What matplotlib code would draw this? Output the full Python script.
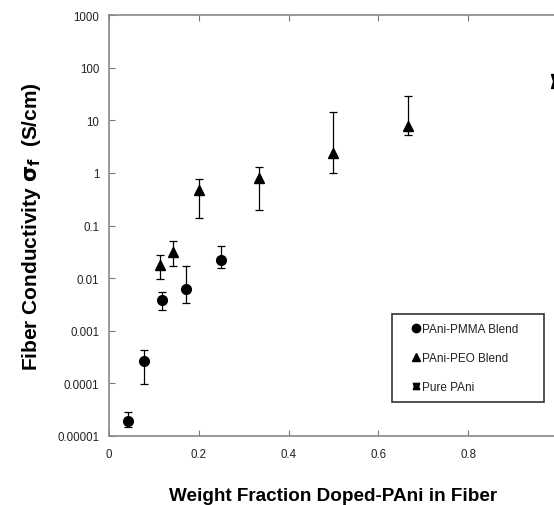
import matplotlib
matplotlib.use("Agg")
import matplotlib.pyplot as plt
from matplotlib.path import Path
import numpy as np

plt.rcParams['font.family'] = ['Liberation Sans', 'DejaVu Sans']

# PAni-PMMA blend (circles)
pmma_x = [0.042, 0.079, 0.118, 0.171, 0.25]
pmma_y = [1.95e-5, 2.7e-4, 3.9e-3, 6.3e-3, 0.0225]
pmma_lo = [1.5e-5, 9.7e-5, 2.5e-3, 3.4e-3, 0.0155]
pmma_hi = [2.9e-5, 4.3e-4, 5.4e-3, 0.0168, 0.040]

# PAni-PEO blend (triangles)
peo_x = [0.114, 0.142, 0.2, 0.333, 0.5, 0.667]
peo_y = [0.0175, 0.031, 0.47, 0.785, 2.35, 7.8]
peo_lo = [0.0098, 0.0168, 0.136, 0.195, 0.98, 5.2]
peo_hi = [0.027, 0.051, 0.76, 1.31, 14.6, 29.5]

# Pure PAni
pure_x = [1.0]
pure_y = [55.0]

xticks = [0, 0.2, 0.4, 0.6, 0.8]
xticklabels = ['0', '0.2', '0.4', '0.6', '0.8']
yticks = [1e-5, 1e-4, 1e-3, 1e-2, 1e-1, 1, 10, 100, 1000]
yticklabels = ['0.00001', '0.0001', '0.001', '0.01', '0.1', '1', '10', '100', '1000']
legend_labels = ['PAni-PMMA Blend', 'PAni-PEO Blend', 'Pure PAni']

W, H = 554, 506
fig = plt.figure(figsize=(W/100, H/100), dpi=100)
ax = fig.add_axes([109/W, (H-437)/H, 449/W, 421/H])

bowtie = Path([(-1, -1), (1, -1), (0.7, 0), (1, 1), (-1, 1), (-0.7, 0), (-1, -1)],
              [Path.MOVETO] + [Path.LINETO]*5 + [Path.CLOSEPOLY])

def err(y, lo, hi):
    y = np.array(y); return [y - np.array(lo), np.array(hi) - y]

ax.errorbar(pmma_x, pmma_y, yerr=err(pmma_y, pmma_lo, pmma_hi), fmt='o', color='black',
            ms=7, capsize=2.6, elinewidth=0.9, capthick=0.9, clip_on=False)
ax.errorbar(peo_x, peo_y, yerr=err(peo_y, peo_lo, peo_hi), fmt='^', color='black',
            ms=7.5, capsize=2.6, elinewidth=0.9, capthick=0.9, clip_on=False)
ax.plot(pure_x, pure_y, marker=bowtie, ls='none', color='black', ms=10, clip_on=False)

ax.set_yscale('log')
ax.set_xlim(0, 1.0)
ax.set_ylim(1e-5, 1000)
ax.set_xticks(xticks)
ax.set_xticklabels(xticklabels)
ax.set_yticks(yticks)
ax.set_yticklabels(yticklabels)
ax.yaxis.set_minor_locator(matplotlib.ticker.NullLocator())
ax.tick_params(axis='both', direction='in', length=4, color='#777777', labelsize=8.3,
               labelcolor='#222222')
ax.tick_params(axis='x', top=True, pad=9)
ax.tick_params(axis='y', pad=7)
for s in ['left', 'bottom', 'top']:
    ax.spines[s].set_color('#888888')
    ax.spines[s].set_linewidth(1.2)
ax.spines['right'].set_visible(False)

ax.set_ylabel(r'Fiber Conductivity $\mathbf{\sigma_f}$  (S/cm)', fontsize=15, fontweight='bold', labelpad=10)
ax.set_xlabel('Weight Fraction Doped-PAni in Fiber', fontsize=13.6, fontweight='bold', labelpad=19)

h1, = ax.plot([], [], 'o', color='black', ms=6)
h2, = ax.plot([], [], '^', color='black', ms=6)
h3, = ax.plot([], [], marker=bowtie, ls='none', color='black', ms=4.5)
leg = fig.legend([h1, h2, h3], legend_labels,
                 loc='lower left', bbox_to_anchor=(392/W, 1-403/H, 152/W, 87/H), mode='expand',
                 fontsize=8.5, frameon=True, fancybox=False, handlelength=2.5,
                 handletextpad=-0.75, labelspacing=1.45, borderpad=0.75, borderaxespad=0)
leg.get_frame().set_edgecolor('black')
leg.get_frame().set_linewidth(1.2)
for t in leg.get_texts():
    t.set_color('#222222')

fig.savefig('out.png', dpi=100)
